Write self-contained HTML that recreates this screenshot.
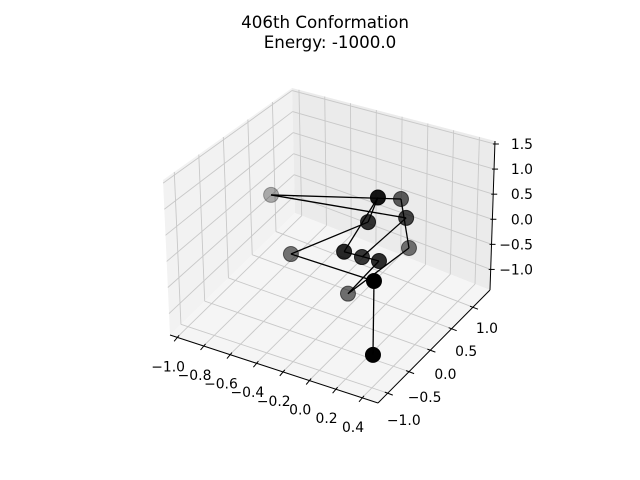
<!DOCTYPE html>
<html><head><meta charset="utf-8"><style>
html,body{margin:0;padding:0;background:#fff;}
svg{display:block;font-family:"DejaVu Sans","Liberation Sans",sans-serif;}
</style></head><body>
<svg id="chart" width="640" height="480" viewBox="0 0 640 480" xmlns="http://www.w3.org/2000/svg">
<text x="325" y="28" font-size="16.7" text-anchor="middle">406th Conformation</text>
<text x="330" y="48" font-size="16.7" text-anchor="middle">Energy: -1000.0</text>
<g id="panes"></g>
<g id="grid"></g>
<g id="axes"></g>
<g id="bonds"></g>
<g id="atoms"></g>
</svg>
<script>
const xs = [0.316, 0.348, -0.588, 0.121, 0.304, 0.026, 0.198, -0.243, 0.100, 0.135, -0.933, 0.271, 0.066];
const ys = [-0.704, -0.704, 0.085, -0.178, -0.441, -0.441, -0.178, 0.348, 0.743, 0.480, 0.611, 0.217, -0.178];
const zs = [-1.113, 0.244, -0.567, 0.809, 1.56, 0.372, 0.131, -1.291, -0.406, 0.794, -0.088, 0.714, 0.108];
const xTicks = [-1.0, -0.8, -0.6, -0.4, -0.2, 0.0, 0.2, 0.4];
const yTicks = [-1.0, -0.5, 0.0, 0.5, 1.0];
const zTicks = [-1.0, -0.5, 0.0, 0.5, 1.0, 1.5];
const xLim = [-1.054, 0.521];
const yLim = [-1.23, 1.40];
const zLim = [-1.41, 1.56];

const NS = 'http://www.w3.org/2000/svg';
const A=[170,335],B=[378,403],C=[490,290],D=[295,213];
const A2=[163,180],B2=[368,232],C2=[495,141],D2=[292,88];
function lerp(p,q,t){return [p[0]+(q[0]-p[0])*t,p[1]+(q[1]-p[1])*t];}
function proj(x,y,z){
  const u=(x-xLim[0])/(xLim[1]-xLim[0]);
  const v=(y-yLim[0])/(yLim[1]-yLim[0]);
  const w=(z-zLim[0])/(zLim[1]-zLim[0]);
  const b=lerp(lerp(A,B,u),lerp(D,C,u),v);
  const t=lerp(lerp(A2,B2,u),lerp(D2,C2,u),v);
  return lerp(b,t,w);
}
function mk(tag,attrs,parent){const e=document.createElementNS(NS,tag);for(const k in attrs)e.setAttribute(k,attrs[k]);parent.appendChild(e);return e;}
function fmt(v){return (v<0?'\u2212':'')+Math.abs(v).toFixed(1);}

const panes=document.getElementById('panes');
function poly(pts,fill,name){
  const p=mk('polygon',{points:pts.map(q=>q.join(',')).join(' '),fill:fill},panes);
  
  
}
const [x0,x1]=xLim,[y0,y1]=yLim,[z0,z1]=zLim;
poly([proj(x0,y0,z0),proj(x0,y1,z0),proj(x0,y1,z1),proj(x0,y0,z1)],'#f2f2f2','left-pane');
poly([proj(x0,y1,z0),proj(x1,y1,z0),proj(x1,y1,z1),proj(x0,y1,z1)],'#ebebeb','back-pane');
poly([proj(x0,y0,z0),proj(x1,y0,z0),proj(x1,y1,z0),proj(x0,y1,z0)],'#f5f5f5','floor-pane');

const grid=document.getElementById('grid');
function gl(p,q,name){
  const l=mk('line',{x1:p[0],y1:p[1],x2:q[0],y2:q[1],stroke:'#c8c8c8','stroke-width':0.9},grid);
  
  
}
xTicks.forEach(t=>{gl(proj(t,y0,z0),proj(t,y1,z0),'floor-gridline-x');gl(proj(t,y1,z0),proj(t,y1,z1),'back-gridline-x');});
yTicks.forEach(t=>{gl(proj(x0,t,z0),proj(x1,t,z0),'floor-gridline-y');gl(proj(x0,t,z0),proj(x0,t,z1),'left-gridline-y');});
zTicks.forEach(t=>{gl(proj(x0,y0,t),proj(x0,y1,t),'left-gridline-z');gl(proj(x0,y1,t),proj(x1,y1,t),'back-gridline-z');});

const axes=document.getElementById('axes');
function al(p,q,name){
  const l=mk('line',{x1:p[0],y1:p[1],x2:q[0],y2:q[1],stroke:'#000','stroke-width':1},axes);
  
  
}
function tx(p,s,anchor,name){
  const t=mk('text',{x:p[0],y:p[1],'font-size':13.9,'text-anchor':anchor,fill:'#000'},axes);
  t.textContent=s;
  
  
}
al(proj(x0,y0,z0),proj(x1,y0,z0),'x-axis-line');
al(proj(x1,y0,z0),proj(x1,y1,z0),'y-axis-line');
al(proj(x1,y1,z0),proj(x1,y1,z1),'z-axis-line');
xTicks.forEach(t=>{const p=proj(t,y0,z0);al([p[0]+2,p[1]-2],[p[0]-3,p[1]+4],'x-tick');tx([p[0]-9,p[1]+34],fmt(t),'middle','x-tick-label');});
yTicks.forEach((t,i)=>{const p=proj(x1,t,z0);const f=i/(yTicks.length-1);al([p[0]-3,p[1]-1],[p[0]+5,p[1]+2],'y-tick');tx([p[0]+16-2*f,p[1]+32-6*f],fmt(t),'middle','y-tick-label');});
zTicks.forEach(t=>{const p=proj(x1,y1,t);al([p[0]-2,p[1]],[p[0]+4,p[1]],'z-tick');tx([533,p[1]+5],fmt(t),'end','z-tick-label');});

const bondsFrom=[0,1,2,3,4,5,6,7,8,9,10,11];
const bondsTo=[1,2,3,4,5,6,7,8,9,10,11,12];
const bonds=document.getElementById('bonds');
const P=xs.map((x,i)=>proj(x,ys[i],zs[i]));
bondsFrom.forEach((a,k)=>{
  const b=bondsTo[k];
  const l=mk('line',{x1:P[a][0],y1:P[a][1],x2:P[b][0],y2:P[b][1],stroke:'#000','stroke-width':1.3},bonds);
  
  
});
function norm(v,lim){return (v-lim[0])/(lim[1]-lim[0]);}
const depth=xs.map((x,i)=>0.433*norm(x,xLim)-0.75*norm(ys[i],yLim));
const dmin=Math.min(...depth),dmax=Math.max(...depth);
const order=xs.map((_,i)=>i).sort((a,b)=>depth[a]-depth[b]);
const atoms=document.getElementById('atoms');
order.forEach(i=>{
  const t=(depth[i]-dmin)/(dmax-dmin);
  const a=0.3+0.7*t;
  const c=mk('circle',{cx:P[i][0],cy:P[i][1],r:7.5,fill:'rgba(0,0,0,'+a.toFixed(3)+')',stroke:'rgba(0,0,0,'+a.toFixed(3)+')','stroke-width':1},atoms);
  
  
});
</script>
</body></html>
